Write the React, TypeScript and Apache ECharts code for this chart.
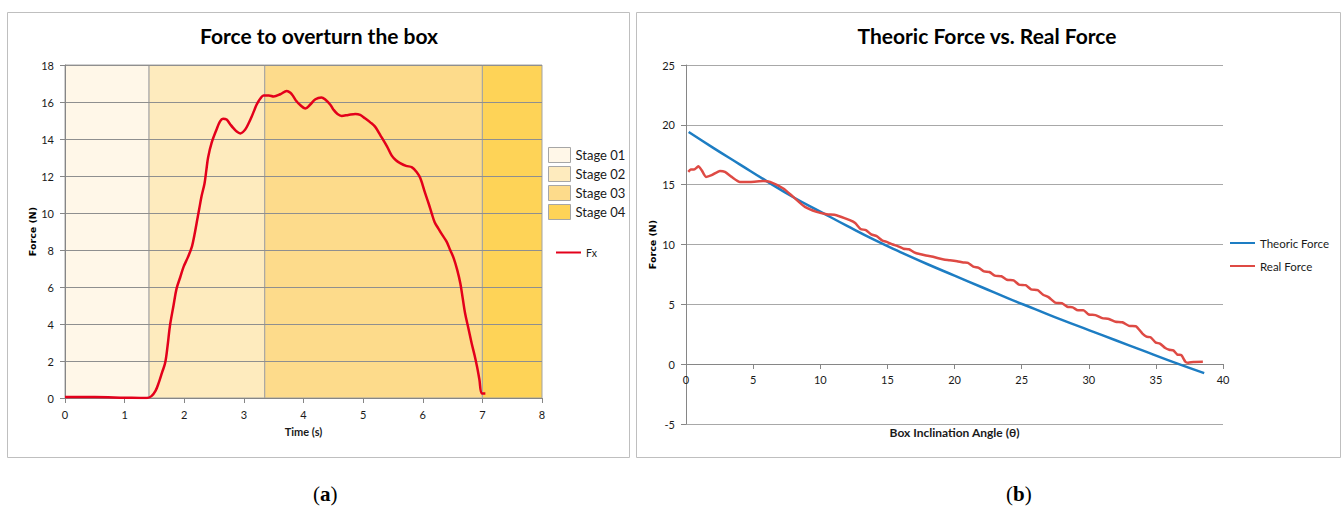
import React, { useEffect, useRef } from "react";
import * as echarts from "echarts";

// ---------- data ----------
const stageNames = ["Stage 01", "Stage 02", "Stage 03", "Stage 04"];
const stageStart = [0, 1.41, 3.35, 7.0];
const stageEnd = [1.41, 3.35, 7.0, 8];

const fxTime = [
  0, 0.5, 1.0, 1.37, 1.45, 1.52, 1.57, 1.63, 1.68, 1.72, 1.76, 1.82, 1.87, 1.93, 1.99, 2.06, 2.13, 2.17,
  2.21, 2.25, 2.29, 2.34, 2.37, 2.4, 2.46, 2.54, 2.6, 2.65, 2.71, 2.77, 2.82, 2.88, 2.94, 3.02, 3.08, 3.13,
  3.18, 3.22, 3.28, 3.33, 3.42, 3.5, 3.61, 3.72, 3.78, 3.83, 3.88, 3.94, 4.03, 4.11, 4.2, 4.3, 4.36, 4.45,
  4.5, 4.57, 4.64, 4.75, 4.87, 4.95, 5.03, 5.12, 5.2, 5.29, 5.4, 5.48, 5.55, 5.62, 5.72, 5.82, 5.9, 5.96,
  6.04, 6.1, 6.15, 6.2, 6.26, 6.33, 6.4, 6.46, 6.52, 6.58, 6.63, 6.67, 6.71, 6.77, 6.82, 6.87, 6.91, 6.95,
  6.99, 7.05,
];
const fxForce = [
  0.05, 0.05, 0.02, 0.0, 0.1, 0.4, 0.8, 1.4, 1.9, 2.8, 3.9, 5.0, 5.9, 6.5, 7.1, 7.6, 8.2, 8.8,
  9.5, 10.2, 10.9, 11.6, 12.3, 13.0, 13.8, 14.5, 14.95, 15.1, 15.05, 14.8, 14.6, 14.4, 14.3, 14.5, 14.85, 15.2,
  15.6, 15.9, 16.2, 16.35, 16.35, 16.3, 16.42, 16.6, 16.5, 16.3, 16.05, 15.85, 15.65, 15.85, 16.15, 16.25, 16.15, 15.85,
  15.6, 15.35, 15.25, 15.3, 15.35, 15.3, 15.12, 14.9, 14.67, 14.2, 13.6, 13.1, 12.85, 12.7, 12.55, 12.47, 12.2, 11.88,
  11.07, 10.5, 9.98, 9.5, 9.17, 8.8, 8.45, 8.0, 7.55, 6.9, 6.2, 5.4, 4.58, 3.7, 2.96, 2.3, 1.7, 1.0,
  0.25, 0.25,
];

const theoricAngle = [0.2, 2, 4, 6, 8, 10, 12, 14, 16, 18, 20, 22, 24, 26, 28, 30, 32, 34, 36, 38.6];
const theoricForce = [19.4, 18.1, 16.7, 15.3, 13.95, 12.75, 11.55, 10.4, 9.35, 8.35, 7.4, 6.45, 5.5, 4.6, 3.7, 2.85, 2.0, 1.15, 0.3, -0.75];

const realAngle = [
  0.17, 0.35, 0.6, 0.92, 1.17, 1.49, 1.91, 2.53, 2.9, 3.4, 4.02, 4.77, 5.76, 6.26, 7.25, 7.99, 8.86, 9.73,
  10.48, 11.2, 12.2, 12.6, 13.0, 13.4, 13.8, 14.2, 14.6, 15.0, 15.4, 15.8, 16.2, 16.6, 17.0, 17.4, 17.8, 18.3,
  18.8, 19.2, 19.66, 20.2, 20.66, 21.0, 21.4, 21.8, 22.2, 22.6, 23.0, 23.5, 23.9, 24.4, 24.8, 25.3, 25.7, 26.2,
  26.6, 27.0, 27.5, 28.0, 28.4, 28.8, 29.2, 29.6, 30.0, 30.5, 31.0, 31.5, 32.0, 32.5, 33.0, 33.5, 34.0, 34.3,
  34.6, 35.0, 35.3, 35.7, 36.0, 36.3, 36.6, 36.9, 37.2, 37.4, 37.8, 38.5,
];
const realForce = [
  16.07, 16.26, 16.26, 16.54, 16.2, 15.65, 15.79, 16.15, 16.07, 15.65, 15.23, 15.23, 15.31, 15.23, 14.68, 13.98, 13.14, 12.73,
  12.53, 12.45, 12.03, 11.8, 11.3, 11.2, 10.85, 10.7, 10.35, 10.2, 10.0, 9.85, 9.65, 9.6, 9.35, 9.2, 9.1, 9.0,
  8.85, 8.75, 8.69, 8.6, 8.5, 8.47, 8.15, 8.05, 7.75, 7.7, 7.4, 7.35, 7.05, 7.0, 6.65, 6.6, 6.25, 6.18,
  5.8, 5.6, 5.15, 5.1, 4.8, 4.75, 4.5, 4.5, 4.15, 4.1, 3.85, 3.78, 3.55, 3.5, 3.2, 3.17, 2.55, 2.3,
  2.25, 1.8, 1.72, 1.35, 1.2, 1.15, 0.8, 0.75, 0.2, 0.12, 0.18, 0.2,
];

const leftYMax = 18;

// ---------- styles ----------
const stageColors = ["#FFF7E8", "#FEEBBE", "#FDDB8B", "#FED357"];
const FONT = "Lato";

export default function App() {
  const ref = useRef<HTMLDivElement>(null);

  useEffect(() => {
    document.body.style.margin = "0";
    const chart = echarts.init(ref.current!, undefined, { renderer: "svg" });

    const axisGrey = "#868686";
    const labelStyle = { color: "#1a1a1a", fontSize: 11, fontFamily: FONT };

    const stageSeries = stageNames.map((name, i) => ({
      type: "custom",
      name,
      xAxisIndex: 0,
      yAxisIndex: 0,
      z: 1,
      silent: true,
      clip: false,
      itemStyle: { color: stageColors[i] },
      data: [[stageStart[i], stageEnd[i]]],
      encode: { x: [0, 1] },
      renderItem: (params: any, api: any) => {
        const p0 = api.coord([api.value(0), leftYMax]);
        const p1 = api.coord([api.value(1), 0]);
        return {
          type: "rect",
          shape: { x: p0[0], y: p0[1], width: p1[0] - p0[0], height: p1[1] - p0[1] },
          style: { fill: stageColors[i], stroke: "#A3A3A3", lineWidth: 1 },
        };
      },
    }));

    const hiddenSymbol = { opacity: 0 };

    const option: any = {
      animation: false,
      backgroundColor: "#ffffff",
      title: [
        {
          text: "Force to overturn the box",
          left: 314,
          top: 20,
          textAlign: "center",
          textStyle: { fontFamily: FONT, fontWeight: "bold", fontSize: 21, color: "#000" },
        },
        {
          text: "Theoric Force vs. Real Force",
          left: 982,
          top: 20,
          textAlign: "center",
          textStyle: { fontFamily: FONT, fontWeight: "bold", fontSize: 21, color: "#000" },
        },
      ],
      grid: [
        { left: 65, top: 65, width: 477, height: 333 },
        { left: 686, top: 65, width: 537, height: 359 },
      ],
      xAxis: [
        {
          gridIndex: 0,
          type: "value",
          min: 0,
          max: 8,
          interval: 1,
          z: 3,
          axisLine: { show: true, onZero: false, lineStyle: { color: axisGrey } },
          axisTick: { show: true, length: 5, lineStyle: { color: axisGrey } },
          axisLabel: { ...labelStyle, margin: 11 },
          splitLine: { show: false },
          name: "Time (s)",
          nameLocation: "middle",
          nameGap: 28,
          nameTextStyle: { fontFamily: FONT, fontWeight: "bold", fontSize: 11, color: "#1a1a1a" },
        },
        {
          gridIndex: 1,
          type: "value",
          min: 0,
          max: 40,
          interval: 5,
          z: 3,
          offset: -60,
          axisLine: { show: true, onZero: false, lineStyle: { color: axisGrey } },
          axisTick: { show: true, length: 5, lineStyle: { color: axisGrey } },
          axisLabel: { ...labelStyle, margin: 10 },
          splitLine: { show: false },
          name: "Box Inclination Angle (θ)",
          nameLocation: "middle",
          nameGap: 62,
          nameTextStyle: { fontFamily: FONT, fontWeight: "bold", fontSize: 12, color: "#1a1a1a" },
        },
      ],
      yAxis: [
        {
          gridIndex: 0,
          type: "value",
          min: 0,
          max: leftYMax,
          interval: 2,
          z: 3,
          axisLine: { show: true, lineStyle: { color: axisGrey } },
          axisTick: { show: true, length: 5, lineStyle: { color: axisGrey } },
          axisLabel: { ...labelStyle, margin: 11 },
          splitLine: { show: true, lineStyle: { color: "#8F8F8F", width: 1 } },
          name: "Force (N)",
          nameLocation: "middle",
          nameGap: 27,
          nameTextStyle: { fontFamily: "DejaVu Sans", fontWeight: "bold", fontSize: 9.5, color: "#000" },
        },
        {
          gridIndex: 1,
          type: "value",
          min: -5,
          max: 25,
          interval: 5,
          z: 3,
          axisLine: { show: true, onZero: false, lineStyle: { color: axisGrey } },
          axisTick: { show: true, length: 5, lineStyle: { color: axisGrey } },
          axisLabel: { ...labelStyle, margin: 11 },
          splitLine: { show: true, lineStyle: { color: "#A8A8A8", width: 1 } },
          name: "Force (N)",
          nameLocation: "middle",
          nameGap: 29,
          nameTextStyle: { fontFamily: "DejaVu Sans", fontWeight: "bold", fontSize: 9.5, color: "#000" },
        },
      ],
      legend: [
        {
          data: stageNames.map((n) => ({
            name: n,
            icon: "rect",
            itemStyle: { borderColor: "#A6A6A6", borderWidth: 1 },
          })),
          orient: "vertical",
          left: 548,
          top: 147,
          itemWidth: 22,
          itemHeight: 15,
          itemGap: 3,
          padding: 0,
          selectedMode: false,
          textStyle: { fontFamily: FONT, fontSize: 13, color: "#1a1a1a" },
        },
        {
          data: [{ name: "Fx", itemStyle: hiddenSymbol }],
          left: 555,
          top: 247,
          itemWidth: 25,
          itemHeight: 12,
          padding: 0,
          selectedMode: false,
          textStyle: { fontFamily: FONT, fontSize: 10.5, color: "#1a1a1a" },
        },
        {
          data: [
            { name: "Theoric Force", itemStyle: hiddenSymbol },
            { name: "Real Force", itemStyle: hiddenSymbol },
          ],
          orient: "vertical",
          left: 1229,
          top: 237,
          itemWidth: 25,
          itemHeight: 12,
          itemGap: 11,
          padding: 0,
          selectedMode: false,
          textStyle: { fontFamily: FONT, fontSize: 11.5, color: "#1a1a1a" },
        },
      ],
      series: [
        ...stageSeries,
        {
          type: "line",
          name: "Fx",
          xAxisIndex: 0,
          yAxisIndex: 0,
          z: 5,
          symbol: "none",
          smooth: 0.35,
          color: "#E3001B",
          lineStyle: { color: "#E3001B", width: 2.5 },
          data: fxTime.map((t, i) => [t, fxForce[i]]),
        },
        {
          type: "line",
          name: "Theoric Force",
          xAxisIndex: 1,
          yAxisIndex: 1,
          z: 5,
          symbol: "none",
          smooth: true,
          color: "#1D7DC3",
          lineStyle: { color: "#1D7DC3", width: 2.5 },
          data: theoricAngle.map((a, i) => [a, theoricForce[i]]),
        },
        {
          type: "line",
          name: "Real Force",
          xAxisIndex: 1,
          yAxisIndex: 1,
          z: 6,
          symbol: "none",
          smooth: 0.2,
          color: "#DE4A44",
          lineStyle: { color: "#DE4A44", width: 2.5 },
          data: realAngle.map((a, i) => [a, realForce[i]]),
        },
      ],
      graphic: [
        {
          type: "rect",
          silent: true,
          z: -10,
          shape: { x: 7.5, y: 12.5, width: 622, height: 445 },
          style: { fill: "none", stroke: "#BFBFBF", lineWidth: 1 },
        },
        {
          type: "rect",
          silent: true,
          z: -10,
          shape: { x: 636.5, y: 12.5, width: 704, height: 445 },
          style: { fill: "none", stroke: "#BFBFBF", lineWidth: 1 },
        },
        {
          type: "text",
          left: 313,
          top: 483,
          style: {
            text: "({a|a})",
            fontFamily: "Liberation Serif",
            fontSize: 21,
            fill: "#000",
            rich: { a: { fontFamily: "Liberation Serif", fontSize: 21, fontWeight: "bold", fill: "#000" } },
          },
        },
        {
          type: "text",
          left: 1006,
          top: 483,
          style: {
            text: "({b|b})",
            fontFamily: "Liberation Serif",
            fontSize: 21,
            fill: "#000",
            rich: { b: { fontFamily: "Liberation Serif", fontSize: 21, fontWeight: "bold", fill: "#000" } },
          },
        },
      ],
    };

    chart.setOption(option);
    return () => chart.dispose();
  }, []);

  return <div ref={ref} style={{ width: 1342, height: 513 }} />;
}
